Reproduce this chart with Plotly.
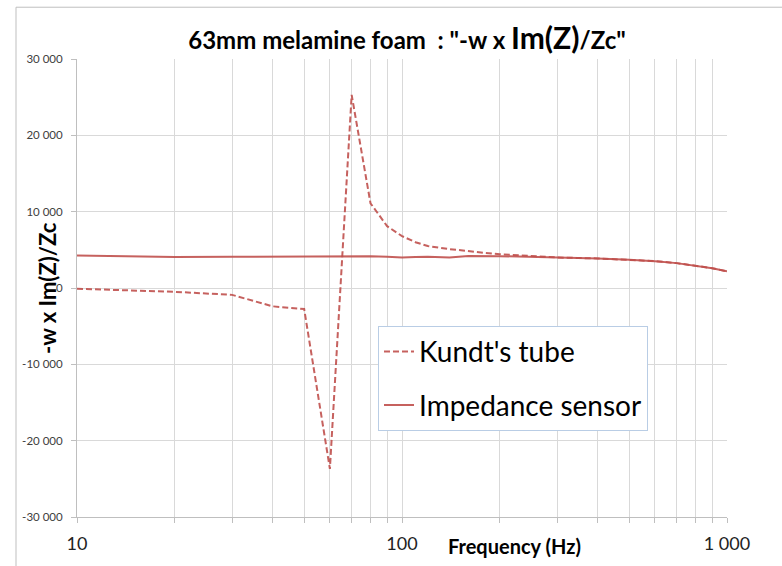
import plotly.graph_objects as go

# Data
freq_kundt = [10, 20, 30, 40, 50, 60, 70, 80, 90, 100, 110, 120, 140, 160, 180, 200,
              250, 300, 400, 500, 600, 700, 800, 900, 1000]
val_kundt = [-100, -500, -900, -2400, -2750, -23700, 25300, 11100, 8100, 6800, 6000, 5500,
             5100, 4800, 4600, 4430, 4200, 4000, 3870, 3690, 3520, 3260, 2900, 2600, 2180]

freq_sensor = [10, 20, 30, 40, 50, 60, 70, 80, 90, 100, 110, 120, 140, 160, 200,
               250, 300, 400, 500, 600, 700, 800, 900, 1000]
val_sensor = [4250, 4050, 4100, 4130, 4150, 4150, 4150, 4150, 4100, 4000, 4050, 4100,
              3980, 4180, 4170, 4080, 4000, 3870, 3690, 3520, 3260, 2900, 2600, 2180]

y_ticks = [-30000, -20000, -10000, 0, 10000, 20000, 30000]
y_ticktext = ["-30 000", "-20 000", "-10 000", "0", "10 000", "20 000", "30 000"]

x_ticks = [10, 20, 30, 40, 50, 60, 70, 80, 90, 100, 200, 300, 400, 500, 600, 700, 800, 900, 1000]
x_ticktext = ["10", "", "", "", "", "", "", "", "", "100", "", "", "", "", "", "", "", "", "1 000"]

RED = "#C0504D"
FONT = "Lato"

fig = go.Figure()
fig.add_trace(go.Scatter(x=freq_kundt, y=val_kundt, mode="lines", name="Kundt's tube",
                         legendgroup="a",
                         line=dict(color=RED, width=2, dash="6px,3px"), opacity=0.9))
fig.add_trace(go.Scatter(x=freq_sensor, y=val_sensor, mode="lines", name="Impedance sensor",
                         legendgroup="b",
                         line=dict(color=RED, width=2), opacity=0.9))

fig.update_layout(
    width=782, height=566,
    margin=dict(l=77, r=55, t=59, b=47),
    paper_bgcolor="white", plot_bgcolor="white",
    font=dict(family=FONT, color="#000000"),
    title=dict(
        text="<b>63mm melamine foam  : \"-w x <span style='font-size:30px'>Im(Z)</span>/Zc\"</b>",
        x=407/782, xanchor="center", y=1-41/566, yanchor="middle", yref="container",
        font=dict(size=24, family=FONT, color="#000000")),
    showlegend=True,
    legend=dict(x=(378-77)/650, y=1-(327-59)/460, xanchor="left", yanchor="top",
                bgcolor="white", bordercolor="#B9CDE5", borderwidth=1,
                font=dict(size=28, family=FONT, color="#000000"),
                tracegroupgap=14, itemwidth=30),
    xaxis=dict(type="log", range=[1, 3], tickvals=x_ticks, ticktext=x_ticktext,
               showgrid=True, gridcolor="#D9D9D9", gridwidth=1,
               showline=True, linecolor="#BFBFBF", linewidth=1,
               ticks="outside", ticklen=5, tickcolor="#BFBFBF", ticklabelstandoff=5,
               tickfont=dict(size=18, family=FONT, color="#222222"), zeroline=False),
    yaxis=dict(range=[-30000, 30000], tickvals=y_ticks, ticktext=y_ticktext,
               showgrid=True, gridcolor="#D9D9D9", gridwidth=1,
               showline=True, linecolor="#BFBFBF", linewidth=1,
               ticks="outside", ticklen=5, tickcolor="#BFBFBF", ticklabelstandoff=6,
               tickfont=dict(size=11.5, family=FONT, color="#404040"), zeroline=False),
)

fig.add_annotation(text="<b>-w x Im(Z)/Zc</b>", xref="paper", yref="paper",
                   x=(47-77)/650, y=0.5, xanchor="center", yanchor="middle",
                   textangle=-90, showarrow=False,
                   font=dict(size=22, family=FONT, color="#000000"))
fig.add_annotation(text="<b>Frequency (Hz)</b>", xref="paper", yref="paper",
                   x=(514-77)/650, y=-(548-519)/460, xanchor="center", yanchor="middle",
                   showarrow=False, font=dict(size=20, family=FONT, color="#000000"))

# chart-area border
fig.add_shape(type="rect", xref="paper", yref="paper",
              x0=(16-77)/650, x1=1.3, y0=-0.3, y1=1+(59-7)/460,
              line=dict(color="#BFBFBF", width=1), layer="below")

fig.write_html("out.html", config={"displayModeBar": False},
               post_script="document.body.style.margin='0';")
